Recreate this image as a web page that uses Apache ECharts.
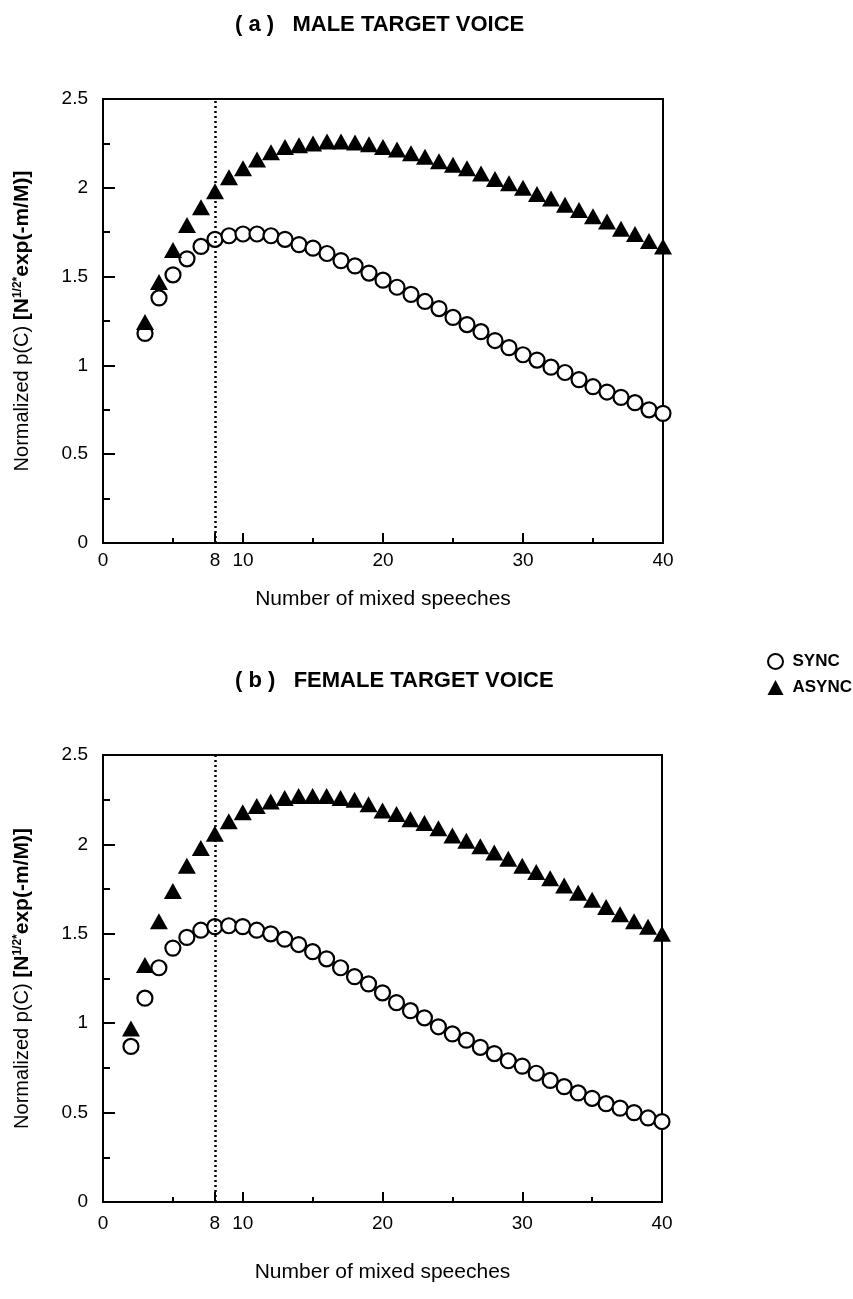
<!DOCTYPE html>
<html>
<head>
<meta charset="utf-8">
<script src="https://cdn.jsdelivr.net/npm/echarts@6/dist/echarts.min.js"></script>
<style>
  html, body { margin: 0; padding: 0; background: #fff; }
  #chart { width: 853px; height: 1299px; }
</style>
</head>
<body>
<div id="chart"></div>
<script>
// number of mixed speeches
var xMale = [3, 4, 5, 6, 7, 8, 9, 10, 11, 12, 13, 14, 15, 16, 17, 18, 19, 20, 21, 22,
  23, 24, 25, 26, 27, 28, 29, 30, 31, 32, 33, 34, 35, 36, 37, 38, 39, 40];
var xFemale = [2, 3, 4, 5, 6, 7, 8, 9, 10, 11, 12, 13, 14, 15, 16, 17, 18, 19, 20, 21,
  22, 23, 24, 25, 26, 27, 28, 29, 30, 31, 32, 33, 34, 35, 36, 37, 38, 39, 40];

// (a) male target voice
var maleSync = [1.18, 1.38, 1.51, 1.60, 1.67, 1.71, 1.73, 1.74, 1.74, 1.73, 1.71, 1.68,
  1.66, 1.63, 1.59, 1.56, 1.52, 1.48, 1.44, 1.40, 1.36, 1.32, 1.27, 1.23, 1.19, 1.14,
  1.10, 1.06, 1.03, 0.99, 0.96, 0.92, 0.88, 0.85, 0.82, 0.79, 0.75, 0.73];
var maleAsync = [1.245, 1.47, 1.65, 1.79, 1.89, 1.98, 2.06, 2.11, 2.16, 2.20, 2.23, 2.24,
  2.25, 2.26, 2.26, 2.255, 2.245, 2.23, 2.215, 2.195, 2.175, 2.15, 2.13, 2.11, 2.08,
  2.05, 2.025, 2.00, 1.965, 1.94, 1.905, 1.875, 1.84, 1.81, 1.77, 1.74, 1.70, 1.67];

// (b) female target voice
var femaleSync = [0.87, 1.14, 1.31, 1.42, 1.48, 1.52, 1.54, 1.545, 1.54, 1.52, 1.50,
  1.47, 1.44, 1.40, 1.36, 1.31, 1.26, 1.22, 1.17, 1.115, 1.07, 1.03, 0.98, 0.94, 0.905,
  0.865, 0.83, 0.79, 0.76, 0.72, 0.68, 0.645, 0.61, 0.58, 0.55, 0.525, 0.50, 0.47, 0.45];
var femaleAsync = [0.97, 1.325, 1.57, 1.74, 1.88, 1.98, 2.06, 2.13, 2.18, 2.215, 2.24,
  2.26, 2.27, 2.27, 2.27, 2.26, 2.25, 2.225, 2.19, 2.17, 2.14, 2.12, 2.09, 2.05, 2.02,
  1.99, 1.955, 1.92, 1.88, 1.845, 1.81, 1.77, 1.73, 1.69, 1.65, 1.61, 1.57, 1.54, 1.50];

var xLabels = [0, 8, 10, 20, 30, 40];
var xMajorTicks = [0, 8, 10, 20, 30, 40];
var xMinorTicks = [5, 15, 25, 35];
var yLabels = [0, 0.5, 1, 1.5, 2, 2.5];
var markX = 8;

var titles = ['( a )   MALE TARGET VOICE', '( b )   FEMALE TARGET VOICE'];
var seriesNames = ['SYNC', 'ASYNC'];

var sansFont = 'Liberation Sans, Arial, sans-serif';

function pairs(xs, ys) {
  return xs.map(function (x, i) { return [x, ys[i]]; });
}

// main x axis: labels + long ticks
function xAxisFor(idx, labelMargin, nameGap) {
  return {
    gridIndex: idx,
    type: 'value',
    min: 0, max: 40, interval: 5,
    name: 'Number of mixed speeches',
    nameLocation: 'middle',
    nameGap: nameGap,
    nameTextStyle: { fontFamily: sansFont, fontSize: 21, color: '#000' },
    axisLine: { lineStyle: { color: '#000', width: 2 } },
    axisTick: { inside: true, length: 10, customValues: xMajorTicks, lineStyle: { color: '#000', width: 2 } },
    axisLabel: { customValues: xLabels, margin: labelMargin, fontFamily: sansFont, fontSize: 19, color: '#000' },
    splitLine: { show: false }
  };
}

// second x axis on the same grid for the short ticks at 5, 15, ...
function xMinorAxisFor(idx) {
  return {
    gridIndex: idx,
    type: 'value',
    position: 'bottom',
    min: 0, max: 40, interval: 5,
    axisLine: { show: false },
    axisTick: { inside: true, length: 5, customValues: xMinorTicks, lineStyle: { color: '#000', width: 2 } },
    axisLabel: { show: false },
    splitLine: { show: false }
  };
}

function yAxisFor(idx) {
  return {
    gridIndex: idx,
    type: 'value',
    min: 0, max: 2.5, interval: 0.5,
    name: 'Normalized p(C) {b|[N}{sup|1/2*}{b|exp(-m/M)]}',
    nameLocation: 'middle',
    nameGap: 70,
    nameTextStyle: {
      fontFamily: sansFont, fontSize: 20, color: '#000',
      rich: {
        b: { fontFamily: sansFont, fontSize: 21, fontWeight: 'bold', color: '#000' },
        sup: { fontFamily: sansFont, fontSize: 12, fontWeight: 'bold', color: '#000', verticalAlign: 'top', padding: [0, 0, 9, 0] }
      }
    },
    axisLine: { lineStyle: { color: '#000', width: 2 } },
    axisTick: { inside: true, length: 12, lineStyle: { color: '#000', width: 2 } },
    minorTick: { show: true, splitNumber: 2, length: 7, lineStyle: { color: '#000', width: 2 } },
    axisLabel: { customValues: yLabels, margin: 15, fontFamily: sansFont, fontSize: 19, color: '#000' },
    splitLine: { show: false }
  };
}

function syncSeries(idx, data) {
  return {
    name: seriesNames[0],
    type: 'scatter',
    xAxisIndex: idx * 2, yAxisIndex: idx,
    symbol: 'circle',
    symbolSize: 15,
    itemStyle: { color: '#fff', borderColor: '#000', borderWidth: 2.2, opacity: 1 },
    data: pairs(idx === 0 ? xMale : xFemale, data),
    markLine: {
      silent: true,
      symbol: 'none',
      label: { show: false },
      lineStyle: { color: '#000', type: [2, 3], width: 2.5 },
      data: [{ xAxis: markX }]
    },
    z: 3
  };
}

function asyncSeries(idx, data) {
  return {
    name: seriesNames[1],
    type: 'scatter',
    xAxisIndex: idx * 2, yAxisIndex: idx,
    symbol: 'triangle',
    symbolSize: [18, 16],
    itemStyle: { color: '#000', opacity: 1 },
    data: pairs(idx === 0 ? xMale : xFemale, data),
    z: 4
  };
}

var chart = echarts.init(document.getElementById('chart'), null, { renderer: 'canvas' });

var titleStyle = { fontFamily: sansFont, fontSize: 22, fontWeight: 'bold', color: '#000' };

chart.setOption({
  backgroundColor: '#fff',
  animation: false,
  title: [
    { text: titles[0], left: 230, top: 9, textStyle: titleStyle },
    { text: titles[1], left: 230, top: 665, textStyle: titleStyle }
  ],
  legend: {
    left: 762, top: 648,
    orient: 'vertical',
    itemGap: 9,
    itemWidth: 16, itemHeight: 15,
    textStyle: { fontFamily: sansFont, fontSize: 17, fontWeight: 'bold', color: '#000', padding: [0, 0, 0, 4] },
    data: [
      { name: seriesNames[0], icon: 'circle', itemStyle: { color: '#fff', borderColor: '#000', borderWidth: 2 } },
      { name: seriesNames[1], icon: 'triangle', itemStyle: { color: '#000' } }
    ]
  },
  grid: [
    { left: 103, top: 99, width: 560, height: 444, show: true, borderColor: '#000', borderWidth: 2, backgroundColor: 'transparent' },
    { left: 103, top: 755, width: 559, height: 447, show: true, borderColor: '#000', borderWidth: 2, backgroundColor: 'transparent' }
  ],
  xAxis: [xAxisFor(0, 8, 46), xMinorAxisFor(0), xAxisFor(1, 12, 60), xMinorAxisFor(1)],
  yAxis: [yAxisFor(0), yAxisFor(1)],
  series: [
    syncSeries(0, maleSync),
    asyncSeries(0, maleAsync),
    syncSeries(1, femaleSync),
    asyncSeries(1, femaleAsync)
  ]
});
</script>
</body>
</html>
